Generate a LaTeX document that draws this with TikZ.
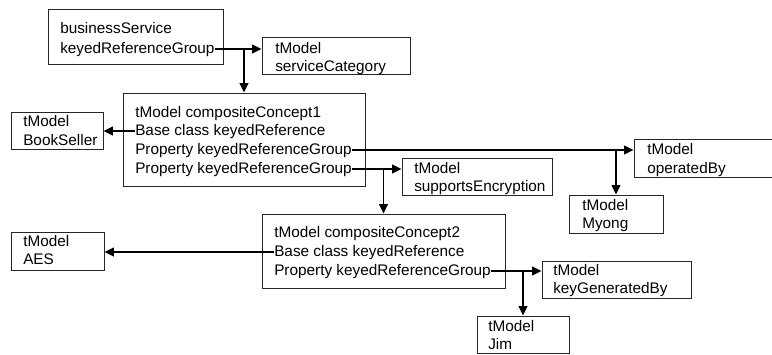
\documentclass[tikz,border=0pt]{standalone}
\usepackage{fontspec}
\setmainfont{Liberation Sans}
\usetikzlibrary{arrows.meta, fit}

\begin{document}
\begin{tikzpicture}[x=0.75pt, y=-0.75pt, font=\fontsize{11.5}{14}\selectfont,
	tbox/.style={draw=black!85, line width=0.75pt, inner sep=0pt, fit={#1}},
	ln/.style={anchor=west, inner sep=0pt, text height=7pt, text depth=1pt},
	link/.style={line width=1.1pt, -{Triangle[length=7pt, width=6.5pt]}}]
	\useasboundingbox		(0,0) rectangle (772,354);

	\node[tbox={(48,9) (223,64)}]		(bs) {};
	\node[tbox={(262,37) (410,74)}]		(sc) {};
	\node[tbox={(123,93) (365,186)}]	(cc1) {};
	\node[tbox={(11,112) (103,149)}]	(seller) {};
	\node[tbox={(634,139) (800,177)}]	(opby) {};
	\node[tbox={(569,195) (663,233)}]	(myong) {};
	\node[tbox={(402,158) (552,195)}]	(enc) {};
	\node[tbox={(262,214) (505,288)}]	(cc2) {};
	\node[tbox={(11,232) (104,270)}]	(aes) {};
	\node[tbox={(542,261) (691,298)}]	(keygen) {};
	\node[tbox={(477,316) (569,353)}]	(jim) {};

	\node[ln] (bs1) at (60,29)	{businessService};
	\node[ln] (bs2) at (60,49)	{keyedReferenceGroup};
	\node[ln] (sc1) at (275,49)	{tModel};
	\node[ln] (sc2) at (275,67)	{serviceCategory};
	\node[ln] (cc1a) at (135,113)	{tModel compositeConcept1};
	\node[ln] (cc1b) at (135,131)	{Base class keyedReference};
	\node[ln] (cc1c) at (135,150)	{Property keyedReferenceGroup};
	\node[ln] (cc1d) at (135,169)	{Property keyedReferenceGroup};
	\node[ln] (seller1) at (23,122)	{tModel};
	\node[ln] (seller2) at (23,141)	{BookSeller};
	\node[ln] (opby1) at (647,150)	{tModel};
	\node[ln] (opby2) at (647,169)	{operatedBy};
	\node[ln] (myong1) at (582,206)	{tModel};
	\node[ln] (myong2) at (582,224)	{Myong};
	\node[ln] (enc1) at (414,169)	{tModel};
	\node[ln] (enc2) at (414,187)	{supportsEncryption};
	\node[ln] (cc2a) at (274,233)	{tModel compositeConcept2};
	\node[ln] (cc2b) at (274,252)	{Base class keyedReference};
	\node[ln] (cc2c) at (274,271)	{Property keyedReferenceGroup};
	\node[ln] (aes1) at (23,242)	{tModel};
	\node[ln] (aes2) at (23,260)	{AES};
	\node[ln] (keygen1) at (553,271)	{tModel};
	\node[ln] (keygen2) at (553,289)	{keyGeneratedBy};
	\node[ln] (jim1) at (488,327)	{tModel};
	\node[ln] (jim2) at (488,345)	{Jim};

	% references, each with a branch down to the box below
	\draw[link]	(bs2.east) -- (sc.west |- bs2.east);
	\draw[link]	(cc1.north |- bs2.east) -- (cc1.north);
	\draw[link]	(cc1b.west) -- (seller.east |- cc1b.west);
	\draw[link]	(cc1c.east) -- (opby.west |- cc1c.east);
	\draw[link]	(myong.north |- cc1c.east) -- (myong.north);
	\draw[link]	(cc1d.east) -- (enc.west |- cc1d.east);
	\draw[link]	(cc2.north |- cc1d.east) -- (cc2.north);
	\draw[link]	(cc2b.west) -- (aes.east |- cc2b.west);
	\draw[link]	(cc2c.east) -- (keygen.west |- cc2c.east);
	\draw[link]	(jim.north |- cc2c.east) -- (jim.north);
\end{tikzpicture}
\end{document}
